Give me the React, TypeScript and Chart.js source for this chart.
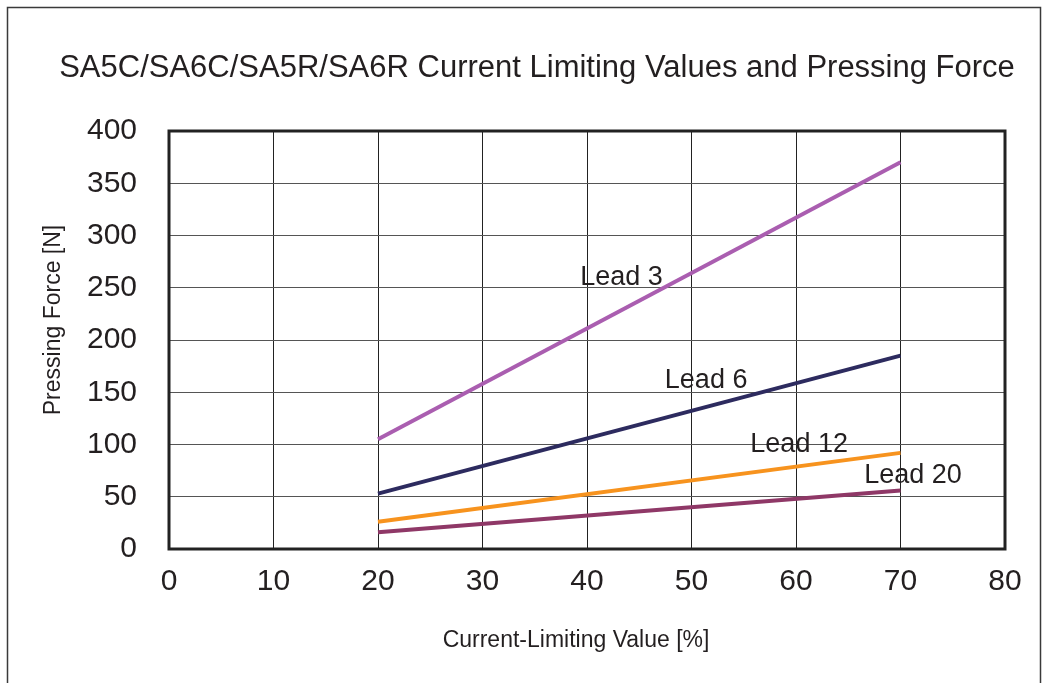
import React, { useEffect, useRef } from "react";
import { Chart, registerables } from "chart.js";

Chart.register(...registerables);

const xValues = [20, 70];
const lead3 = [105, 370];
const lead6 = [53, 185];
const lead12 = [26, 92];
const lead20 = [16, 56];
const seriesNames = ["Lead 3", "Lead 6", "Lead 12", "Lead 20"];
const seriesColors = ["#AA5EB0", "#2D2B5F", "#F7931E", "#8F3867"];
const labelX = [43.3, 51.4, 60.3, 71.2];
const labelY = [260, 161, 99.5, 70];

const TITLE = "SA5C/SA6C/SA5R/SA6R Current Limiting Values and Pressing Force";
const X_TITLE = "Current-Limiting Value [%]";
const Y_TITLE = "Pressing Force [N]";
const FONT = "'Liberation Sans', Arial, sans-serif";

export default function App() {
  const ref = useRef<HTMLCanvasElement | null>(null);

  useEffect(() => {
    if (!ref.current) return;
    const allSeries = [lead3, lead6, lead12, lead20];
    const deco = {
      id: "deco",
      afterDraw(chart: any) {
        const ctx = chart.ctx;
        const a = chart.chartArea;
        const xs = chart.scales.x;
        const ys = chart.scales.y;
        ctx.save();
        // outer frame
        ctx.strokeStyle = "#3a3a3a";
        ctx.lineWidth = 1.5;
        ctx.strokeRect(7.5, 7.5, 1033, 700);
        // plot frame
        ctx.strokeStyle = "#222";
        ctx.lineWidth = 3;
        ctx.strokeRect(a.left, a.top, a.right - a.left, a.bottom - a.top);
        // title
        ctx.fillStyle = "#231f20";
        ctx.textAlign = "center";
        ctx.textBaseline = "middle";
        ctx.font = `31px ${FONT}`;
        ctx.fillText(TITLE, 537, 68);
        // x title
        ctx.font = `23px ${FONT}`;
        ctx.fillText(X_TITLE, 576, 641);
        // y title
        ctx.save();
        ctx.translate(54, 320);
        ctx.rotate(-Math.PI / 2);
        ctx.fillText(Y_TITLE, 0, 0);
        ctx.restore();
        // series labels
        ctx.font = `27px ${FONT}`;
        for (let i = 0; i < seriesNames.length; i++) {
          ctx.fillText(seriesNames[i], xs.getPixelForValue(labelX[i]), ys.getPixelForValue(labelY[i]));
        }
        ctx.restore();
      },
    };

    const chart = new Chart(ref.current, {
      type: "line",
      data: {
        datasets: allSeries.map((s, i) => ({
          label: seriesNames[i],
          data: xValues.map((x, j) => ({ x, y: s[j] })),
          borderColor: seriesColors[i],
          backgroundColor: seriesColors[i],
          borderWidth: 4,
          pointRadius: 0,
          tension: 0,
        })),
      },
      options: {
        animation: false,
        responsive: false,
        maintainAspectRatio: false,
        layout: { padding: { left: 0, right: 44, top: 131, bottom: 0 } },
        plugins: { legend: { display: false }, title: { display: false }, tooltip: { enabled: false } },
        scales: {
          x: {
            type: "linear",
            min: 0,
            max: 80,
            ticks: { stepSize: 10, color: "#231f20", font: { size: 30, family: FONT }, padding: 15 },
            grid: { color: "#222", lineWidth: 1, drawTicks: false },
            border: { display: false },
            afterFit: (s: any) => { s.height = 134; },
          },
          y: {
            type: "linear",
            min: 0,
            max: 400,
            ticks: { stepSize: 50, color: "#231f20", font: { size: 30, family: FONT }, padding: 32 },
            grid: { color: "#555", lineWidth: 1, drawTicks: false },
            border: { display: false },
            afterFit: (s: any) => { s.width = 169; },
          },
        },
      },
      plugins: [deco],
    });
    return () => chart.destroy();
  }, []);

  return (
    <div style={{ position: "absolute", left: 0, top: 0, width: 1049, height: 683, background: "#fff" }}>
      <canvas ref={ref} width={1049} height={683} style={{ width: 1049, height: 683, display: "block" }} />
    </div>
  );
}
